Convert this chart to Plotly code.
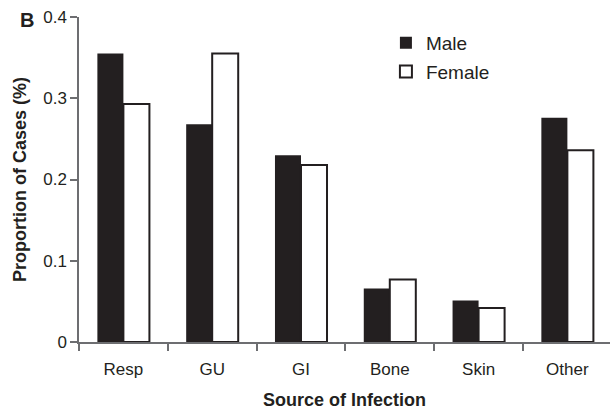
import plotly.graph_objects as go

categories = ["Resp", "GU", "GI", "Bone", "Skin", "Other"]
male = [0.355, 0.268, 0.230, 0.066, 0.051, 0.276]
female = [0.293, 0.355, 0.218, 0.077, 0.042, 0.236]
y_ticks = [0, 0.1, 0.2, 0.3, 0.4]
y_tick_labels = ["0", "0.1", "0.2", "0.3", "0.4"]

DARK = "#231f20"
AXIS = "#6d6e71"
FONT = "Liberation Sans, Arial, sans-serif"

fig = go.Figure()
fig.add_trace(go.Bar(
    x=categories, y=male, name="Male",
    marker=dict(color=DARK, line=dict(color=DARK, width=0)),
    legendgroup="m",
))
fig.add_trace(go.Bar(
    x=categories, y=female, name="Female",
    marker=dict(color="white", line=dict(color=DARK, width=2)),
    legendgroup="f",
))

fig.update_layout(
    width=610, height=410,
    margin=dict(l=79, r=0, t=17, b=68),
    paper_bgcolor="white", plot_bgcolor="white",
    font=dict(family=FONT, size=17, color=DARK),
    barmode="group", bargap=0.414, bargroupgap=0,
    showlegend=True,
    legend=dict(
        x=0.578, y=0.979, xanchor="left", yanchor="top",
        bgcolor="rgba(0,0,0,0)", font=dict(size=19, color=DARK),
        traceorder="grouped", tracegroupgap=1,
    ),
    xaxis=dict(
        type="category", range=[-0.5, 5.48],
        showline=True, linecolor=AXIS, linewidth=1.5,
        ticks="outside", tickson="boundaries", ticklen=7, tickwidth=1.5, tickcolor=AXIS,
        ticklabelstandoff=11,
        showgrid=False, zeroline=False,
        tickfont=dict(size=17),
        title=dict(text="<b>Source of Infection</b>", font=dict(size=18, color=DARK), standoff=17),
        automargin=False,
    ),
    yaxis=dict(
        range=[0, 0.4], tickvals=y_ticks, ticktext=y_tick_labels,
        showline=True, linecolor=AXIS, linewidth=1.5,
        ticks="outside", ticklen=7, tickwidth=1.5, tickcolor=AXIS,
        showgrid=False, zeroline=False,
        tickfont=dict(size=17),
        title=dict(text="<b>Proportion of Cases (%)</b>", font=dict(size=18, color=DARK), standoff=12),
        automargin=False,
    ),
    annotations=[dict(
        text="<b>B</b>", x=-0.097, y=0.992, xref="paper", yref="paper",
        showarrow=False, font=dict(size=20, color=DARK),
        xanchor="center", yanchor="middle",
    )],
)

fig.write_html("out.html", config={"displayModeBar": False},
               post_script="document.body.style.margin='0';")
